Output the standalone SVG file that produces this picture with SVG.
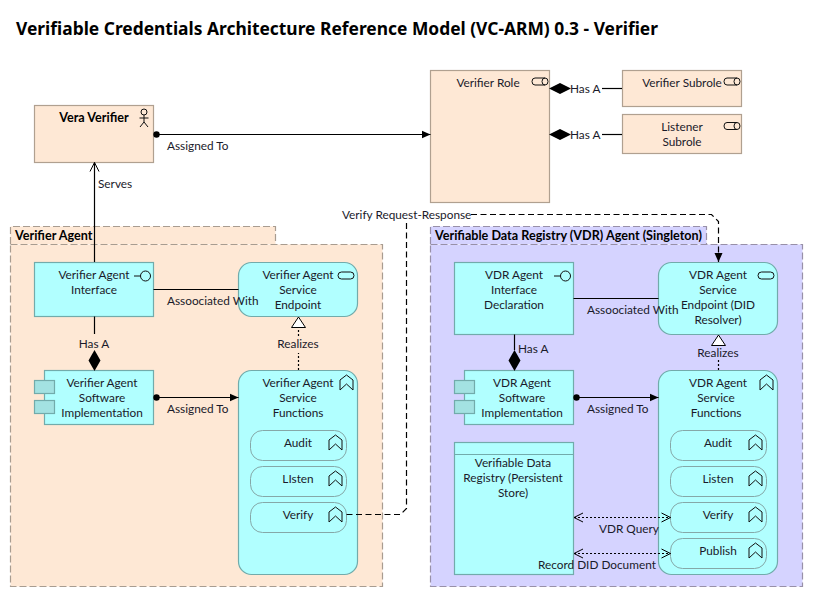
<svg xmlns="http://www.w3.org/2000/svg" width="813" height="597" viewBox="0 0 813 597">
<style>
text{font-family:"Lato","Noto Sans","Liberation Sans",sans-serif;font-size:11.8px;fill:#1a1a2a}
.c{text-anchor:middle}
.b{font-weight:bold;fill:#000;font-size:12.6px}
.peach{fill:#fee8d5;stroke:#b0a090;stroke-width:1.2}
.cyan{fill:#b1ffff;stroke:#72abab;stroke-width:1.2}
.sub{fill:#b1ffff;stroke:#85a8a8;stroke-width:1}
.tab{fill:#a3e2e2;stroke:#72abab;stroke-width:1.2}
.gp{fill:#fee8d5;stroke:#a89c90;stroke-width:1.2;stroke-dasharray:7 3}
.gv{fill:#d5d3ff;stroke:#9890a8;stroke-width:1.2;stroke-dasharray:7 3}
.l{fill:none;stroke:#000;stroke-width:1.2}
.d{fill:none;stroke:#000;stroke-width:1.2;stroke-dasharray:6 3.5}
.dot{fill:none;stroke:#000;stroke-width:1.2;stroke-dasharray:2 2}
.ic{fill:none;stroke:#111;stroke-width:1}
</style>
<defs>
<marker id="fill" markerUnits="userSpaceOnUse" markerWidth="10" markerHeight="10" refX="9" refY="5" orient="auto"><path d="M0 1 9 5 0 9z" fill="#000"/></marker>
<marker id="open" markerUnits="userSpaceOnUse" markerWidth="12" markerHeight="12" refX="10" refY="6" orient="auto-start-reverse"><path d="M1 1.500 10 6 1 10.500" fill="none" stroke="#000" stroke-width="1"/></marker>
<marker id="ball" markerUnits="userSpaceOnUse" markerWidth="8" markerHeight="8" refX="4" refY="4"><circle cx="4" cy="4" r="3.200" fill="#000"/></marker>
<g id="fn"><path class="ic" d="M-6.500 -3 0 -8 6.500 -3 6.500 7 0 1 -6.500 7z"/></g>
<g id="rl"><path class="ic" d="M-5 -3.500H5A3 3.500 0 0 1 5 3.500H-5A3 3.500 0 0 1 -5 -3.500z"/><path class="ic" d="M5 -3.500A3 3.500 0 0 0 5 3.500"/></g>
<g id="sv"><rect class="ic" x="-8" y="-3.500" width="16" height="7" rx="3.500"/></g>
<g id="if"><circle class="ic" cx="4" cy="0" r="5"/><path class="ic" d="M-7.500 0H-1"/></g>
</defs>
<rect width="813" height="597" fill="#fff"/>
<text class="b" x="16" y="35" style="font-family:'Noto Sans',sans-serif;font-size:17.4px">Verifiable Credentials Architecture Reference Model (VC-ARM) 0.3 - Verifier</text>

<g id="group-verifier-agent">
<path class="gp" d="M10.500 244V226.500H275.500V244"/>
<rect class="gp" x="10.500" y="244.500" width="372" height="342"/>
<text class="b" x="15" y="240">Verifier Agent</text>
</g>
<g id="group-vdr-agent">
<path class="gv" d="M430.500 244V226.500H706.500V244"/>
<rect class="gv" x="430.500" y="244.500" width="372" height="342"/>
<text class="b" x="435" y="240">Verifiable Data Registry (VDR) Agent (Singleton)</text>
</g>

<g id="vera-verifier">
<rect class="peach" x="34.500" y="105.500" width="119" height="57"/>
<text class="b c" x="94" y="122">Vera Verifier</text>
<g class="ic"><circle cx="144" cy="112" r="3"/><path d="M144 115V122M139.500 118H148.500M140 127 144 122 148 127"/></g>
</g>
<g id="verifier-role">
<rect class="peach" x="430.500" y="70.500" width="119" height="132"/>
<text class="c" x="488" y="87">Verifier Role</text>
<use href="#rl" x="540" y="81.500"/>
</g>
<g id="verifier-subrole">
<rect class="peach" x="622.500" y="70.500" width="119" height="36"/>
<text class="c" x="682" y="87">Verifier Subrole</text>
<use href="#rl" x="732" y="81.500"/>
</g>
<g id="listener-subrole">
<rect class="peach" x="622.500" y="114.500" width="119" height="39"/>
<text class="c" x="682" y="131">Listener</text>
<text class="c" x="682" y="146">Subrole</text>
<use href="#rl" x="732" y="126"/>
</g>

<g id="verifier-agent-interface">
<rect class="cyan" x="34.500" y="262.500" width="119" height="54"/>
<text class="c" x="94" y="279">Verifier Agent</text>
<text class="c" x="94" y="294">Interface</text>
<use href="#if" x="141.500" y="276"/>
</g>
<g id="verifier-agent-service-endpoint">
<rect class="cyan" x="238.500" y="262.500" width="119" height="54" rx="13"/>
<text class="c" x="298" y="279">Verifier Agent</text>
<text class="c" x="298" y="294">Service</text>
<text class="c" x="298" y="309">Endpoint</text>
<use href="#sv" x="346" y="275.500"/>
</g>
<g id="verifier-agent-software">
<rect class="cyan" x="44.500" y="370.500" width="109" height="54"/>
<rect class="tab" x="34.500" y="380.500" width="20" height="13"/>
<rect class="tab" x="34.500" y="400.500" width="20" height="13"/>
<text class="c" x="102" y="387">Verifier Agent</text>
<text class="c" x="102" y="402">Software</text>
<text class="c" x="102" y="417">Implementation</text>
</g>
<g id="verifier-agent-service-functions">
<rect class="cyan" x="238.500" y="370.500" width="119" height="204" rx="13"/>
<text class="c" x="298" y="387">Verifier Agent</text>
<text class="c" x="298" y="402">Service</text>
<text class="c" x="298" y="417">Functions</text>
<use href="#fn" x="346.500" y="383"/>
</g>
<g id="verifier-audit"><rect class="sub" x="250.500" y="430.500" width="96" height="30" rx="12"/><text class="c" x="298" y="447">Audit</text><use href="#fn" x="335.500" y="443"/></g>
<g id="verifier-listen"><rect class="sub" x="250.500" y="466.500" width="96" height="30" rx="12"/><text class="c" x="298" y="483">LIsten</text><use href="#fn" x="335.500" y="479"/></g>
<g id="verifier-verify"><rect class="sub" x="250.500" y="502.500" width="96" height="30" rx="12"/><text class="c" x="298" y="519">Verify</text><use href="#fn" x="335.500" y="515"/></g>

<g id="vdr-agent-interface">
<rect class="cyan" x="454.500" y="262.500" width="119" height="72"/>
<text class="c" x="514" y="279">VDR Agent</text>
<text class="c" x="514" y="294">Interface</text>
<text class="c" x="514" y="309">Declaration</text>
<use href="#if" x="561.500" y="276"/>
</g>
<g id="vdr-agent-service-endpoint">
<rect class="cyan" x="658.500" y="262.500" width="119" height="72" rx="13"/>
<text class="c" x="718" y="279">VDR Agent</text>
<text class="c" x="718" y="294">Service</text>
<text class="c" x="718" y="309">Endpoint (DID</text>
<text class="c" x="718" y="324">Resolver)</text>
<use href="#sv" x="766" y="275.500"/>
</g>
<g id="vdr-agent-software">
<rect class="cyan" x="464.500" y="370.500" width="109" height="54"/>
<rect class="tab" x="454.500" y="380.500" width="20" height="13"/>
<rect class="tab" x="454.500" y="400.500" width="20" height="13"/>
<text class="c" x="522" y="387">VDR Agent</text>
<text class="c" x="522" y="402">Software</text>
<text class="c" x="522" y="417">Implementation</text>
</g>
<g id="vdr-persistent-store">
<rect class="cyan" x="454.500" y="442.500" width="119" height="132"/>
<path class="cyan" d="M454.500 454.500H573.500"/>
<text class="c" x="513" y="467">Verifiable Data</text>
<text class="c" x="513" y="482">Registry (Persistent</text>
<text class="c" x="513" y="497">Store)</text>
</g>
<g id="vdr-agent-service-functions">
<rect class="cyan" x="658.500" y="370.500" width="119" height="204" rx="13"/>
<text class="c" x="718" y="387">VDR Agent</text>
<text class="c" x="716" y="402">Service</text>
<text class="c" x="716" y="417">Functions</text>
<use href="#fn" x="766.500" y="383"/>
</g>
<g id="vdr-audit"><rect class="sub" x="670.500" y="430.500" width="96" height="30" rx="12"/><text class="c" x="718" y="447">Audit</text><use href="#fn" x="755.500" y="443"/></g>
<g id="vdr-listen"><rect class="sub" x="670.500" y="466.500" width="96" height="30" rx="12"/><text class="c" x="718" y="483">Listen</text><use href="#fn" x="755.500" y="479"/></g>
<g id="vdr-verify"><rect class="sub" x="670.500" y="502.500" width="96" height="30" rx="12"/><text class="c" x="718" y="519">Verify</text><use href="#fn" x="755.500" y="515"/></g>
<g id="vdr-publish"><rect class="sub" x="670.500" y="538.500" width="96" height="30" rx="12"/><text class="c" x="718" y="555">Publish</text><use href="#fn" x="755.500" y="551"/></g>

<g id="connectors">
<path class="l" d="M156.500 134.500H430.500" marker-start="url(#ball)" marker-end="url(#fill)"/>
<text x="167" y="150">Assigned To</text>
<path class="l" d="M94.500 262V162.500" marker-end="url(#open)"/>
<text x="98" y="188">Serves</text>

<path d="M549 88.500 560 83 571 88.500 560 94z" fill="#000"/>
<path class="l" d="M602 88.500H622"/>
<text x="570" y="93">Has A</text>
<path d="M549 134.500 560 129 571 134.500 560 140z" fill="#000"/>
<path class="l" d="M602 134.500H622"/>
<text x="570" y="139">Has A</text>

<path class="l" d="M153.500 289.500H238.500"/>
<text x="167" y="305">Assoociated With</text>
<path class="l" d="M94.500 316.500V334"/>
<text class="c" x="94" y="348">Has A</text>
<path d="M94.500 350 88.500 360.500 94.500 371 100.500 360.500z" fill="#000"/>
<path class="dot" d="M298.500 370V353"/>
<text class="c" x="298" y="348">Realizes</text>
<path class="dot" d="M298.500 336V328"/>
<path d="M298.500 317 291.500 327.500H305.500z" fill="#fff" stroke="#000" stroke-width="1"/>
<path class="l" d="M156.500 397.500H238.500" marker-start="url(#ball)" marker-end="url(#fill)"/>
<text x="167" y="413">Assigned To</text>

<path class="d" d="M346.500 514.500H400.500L406.500 508.500V222"/>
<text x="342" y="219">Verify Request-Response</text>
<path class="d" d="M471 214.500H711.500L718.500 221.500V262" marker-end="url(#fill)"/>

<path class="l" d="M573.500 298.500H658.500"/>
<text x="587" y="314">Assoociated With</text>
<path class="l" d="M514.500 334.500V350"/>
<path d="M514.500 350 508.500 360.500 514.500 371 520.500 360.500z" fill="#000"/>
<text x="518" y="353">Has A</text>
<path class="dot" d="M718.500 370V360"/>
<text class="c" x="718" y="357">Realizes</text>
<path d="M718.500 335 711.500 345.500H725.500z" fill="#fff" stroke="#000" stroke-width="1"/>
<path class="l" d="M576.500 397.500H658.500" marker-start="url(#ball)" marker-end="url(#fill)"/>
<text x="587" y="413">Assigned To</text>
<path class="dot" d="M574 517.500H670.500" marker-start="url(#open)" marker-end="url(#open)"/>
<text x="599" y="533">VDR Query</text>
<path class="dot" d="M574 553.500H670.500" marker-start="url(#open)" marker-end="url(#open)"/>
<text x="538" y="569">Record DID Document</text>
</g>
</svg>
